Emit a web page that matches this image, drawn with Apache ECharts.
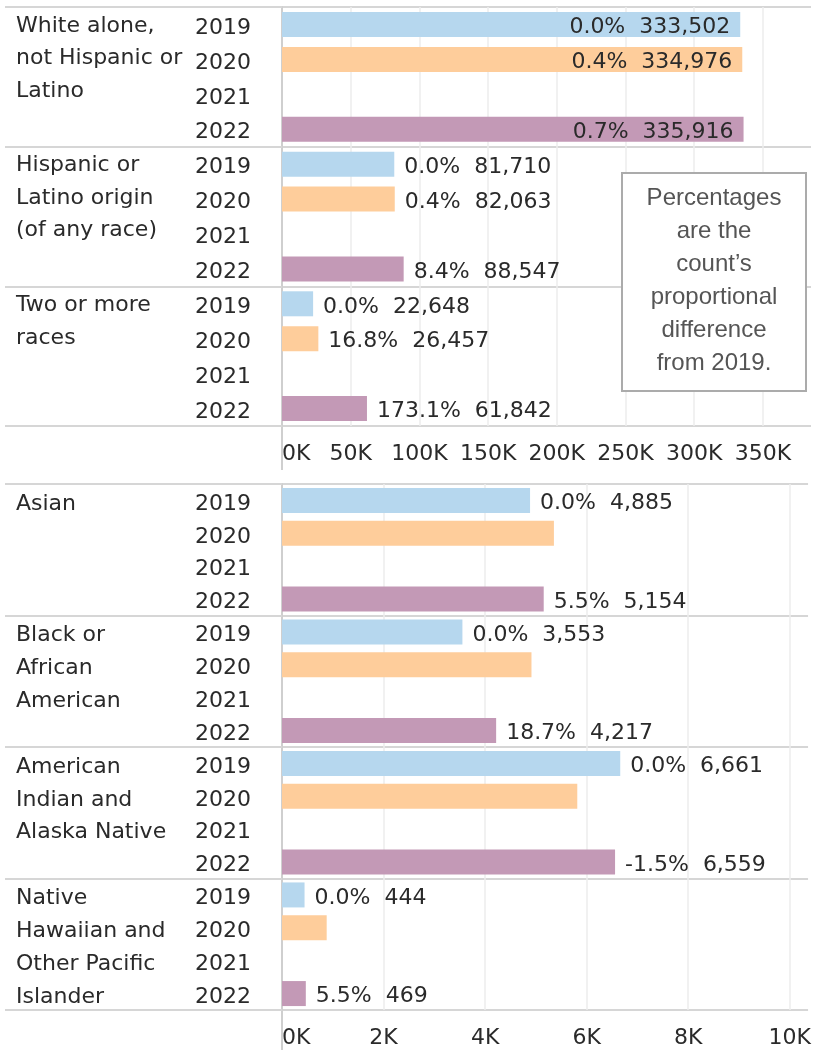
<!DOCTYPE html>
<html><head><meta charset="utf-8">
<script src="https://cdn.jsdelivr.net/npm/echarts@6/dist/echarts.min.js"></script>
<style>html,body{margin:0;padding:0;background:#fff}#c{width:814px;height:1050px}</style>
</head><body><div id="c"></div>
<script>
// ---------- data ----------
const years = ['2019', '2020', '2021', '2022'];

const topGroups = ['White alone,\nnot Hispanic or\nLatino', 'Hispanic or\nLatino origin\n(of any race)', 'Two or more\nraces'];
const top2019 = [333502, 81710, 22648];
const top2020 = [334976, 82063, 26457];
const top2022 = [335916, 88547, 61842];
const top2019Pct = ['0.0%', '0.0%', '0.0%'];
const top2020Pct = ['0.4%', '0.4%', '16.8%'];
const top2022Pct = ['0.7%', '8.4%', '173.1%'];
const topTickLabels = ['0K', '50K', '100K', '150K', '200K', '250K', '300K', '350K'];

const bottomGroups = ['Asian', 'Black or\nAfrican\nAmerican', 'American\nIndian and\nAlaska Native', 'Native\nHawaiian and\nOther Pacific\nIslander'];
const bottom2019 = [4885, 3553, 6661, 444];
const bottom2020 = [5355, 4913, 5815, 880];
const bottom2022 = [5154, 4217, 6559, 469];
const bottom2019Pct = ['0.0%', '0.0%', '0.0%', '0.0%'];
const bottom2020Pct = [null, null, null, null];
const bottom2022Pct = ['5.5%', '18.7%', '-1.5%', '5.5%'];
const bottomTickLabels = ['0K', '2K', '4K', '6K', '8K', '10K'];

const annotationLines = ['Percentages', 'are the', 'count\u2019s', 'proportional', 'difference', 'from 2019.'];

// ---------- style / layout ----------
const yearColors = { '2019': '#b6d7ee', '2020': '#fecd9b', '2022': '#c399b6' };
const FONT = 'DejaVu Sans';
const TXT = '#2a2a2a';
const SEP = '#d6d6d6';
const GRID_LINE = '#ededed';
const PLOT_LEFT = 282;
// spacer: [lineHeight before, lineHeight after] to nudge the label block vertically
const TOP = { top: 7, height: 419, max: 385000, interval: 50000, lineH: 32.5, spacer: [0, 4] };
const BOT = { top: 484, height: 526, max: 10360, interval: 2000, lineH: 32.8, spacer: [7, 0] };

function buildRows(groups, v19, v20, v22, p19, p20, p22, axisMax) {
  const cats = [], items = [];
  const byYear = { '2019': [v19, p19], '2020': [v20, p20], '2021': [null, null], '2022': [v22, p22] };
  groups.forEach((g, gi) => {
    years.forEach(y => {
      cats.push(gi + '|' + y);
      const src = byYear[y];
      const v = src[0] ? src[0][gi] : null;
      const p = src[1] ? src[1][gi] : null;
      if (v == null) { items.push(null); return; }
      const text = p ? p + '  ' + v.toLocaleString('en-US') : '';
      items.push({
        value: v,
        itemStyle: { color: yearColors[y] },
        label: { show: !!p, position: v / axisMax > 0.7 ? 'insideRight' : 'right', formatter: text }
      });
    });
  });
  return { cats, items };
}

const topRows = buildRows(topGroups, top2019, top2020, top2022, top2019Pct, top2020Pct, top2022Pct, TOP.max);
const botRows = buildRows(bottomGroups, bottom2019, bottom2020, bottom2022, bottom2019Pct, bottom2020Pct, bottom2022Pct, BOT.max);

function groupLabel(s, P) {
  const lines = s.split('\n');
  while (lines.length < 4) lines.push(' ');
  const out = lines.map(l => '{g|' + l + '}');
  if (P.spacer[0]) out.unshift('{s0| }');
  if (P.spacer[1]) out.push('{s1| }');
  return out.join('\n');
}

function xAxisFor(gi, P, tickLabels) {
  return {
    type: 'value', gridIndex: gi, min: 0, max: P.max, interval: P.interval, position: 'bottom',
    axisLine: { show: false }, axisTick: { show: false },
    splitLine: { show: true, showMaxLine: false, lineStyle: { color: GRID_LINE, width: 1.5 } },
    axisLabel: {
      color: TXT, fontFamily: FONT, fontSize: 22, margin: 17, alignMinLabel: 'left', showMaxLabel: true,
      formatter: v => (v % P.interval === 0 && tickLabels[v / P.interval] != null) ? tickLabels[v / P.interval] : ''
    }
  };
}
function yearAxisFor(gi, cats) {
  return {
    type: 'category', gridIndex: gi, data: cats, inverse: true, position: 'left',
    axisLine: { show: true, lineStyle: { color: '#cfcfcf', width: 2 } },
    axisTick: { show: false },
    splitLine: { show: false },
    axisLabel: { interval: 0, margin: 31, align: 'right', color: TXT, fontFamily: FONT, fontSize: 22,
      formatter: v => '{s| }\n{y|' + v.split('|')[1] + '}',
      rich: {
        s: { fontSize: 1, lineHeight: 7 },
        y: { fontSize: 22, fontFamily: FONT, color: TXT, lineHeight: 26 }
      } }
  };
}
function groupAxisFor(gi, groups, P) {
  return {
    type: 'category', gridIndex: gi, data: groups, inverse: true, position: 'left',
    axisLine: { show: false },
    axisTick: { show: true, interval: 0, alignWithLabel: false, length: PLOT_LEFT - 5, lineStyle: { color: SEP, width: 2 } },
    splitLine: { show: true, interval: 0, lineStyle: { color: SEP, width: 2 } },
    axisLabel: { interval: 0, margin: PLOT_LEFT - 16, align: 'left', verticalAlign: 'middle',
      color: TXT, fontFamily: FONT, fontSize: 22,
      formatter: v => groupLabel(v, P),
      rich: {
        g: { fontSize: 22, fontFamily: FONT, color: TXT, lineHeight: P.lineH },
        s0: { fontSize: 1, lineHeight: P.spacer[0] || 1 },
        s1: { fontSize: 1, lineHeight: P.spacer[1] || 1 }
      } }
  };
}
function barSeries(gi, rows) {
  return {
    type: 'bar', xAxisIndex: gi, yAxisIndex: gi * 2, data: rows.items, barWidth: 25,
    animation: false, silent: true,
    label: { show: false, color: TXT, fontFamily: FONT, fontSize: 22, distance: 10, offset: [0, 3] },
    z: 3
  };
}

const chart = echarts.init(document.getElementById('c'), null, { renderer: 'canvas' });
chart.setOption({
  animation: false,
  backgroundColor: '#ffffff',
  grid: [
    { left: PLOT_LEFT, right: 0, top: TOP.top, height: TOP.height, containLabel: false },
    { left: PLOT_LEFT, right: 0, top: BOT.top, height: BOT.height, containLabel: false }
  ],
  xAxis: [xAxisFor(0, TOP, topTickLabels), xAxisFor(1, BOT, bottomTickLabels)],
  yAxis: [
    yearAxisFor(0, topRows.cats), groupAxisFor(0, topGroups, TOP),
    yearAxisFor(1, botRows.cats), groupAxisFor(1, bottomGroups, BOT)
  ],
  series: [barSeries(0, topRows), barSeries(1, botRows)],
  graphic: [
    { type: 'line', shape: { x1: PLOT_LEFT, y1: TOP.top + TOP.height, x2: PLOT_LEFT, y2: TOP.top + TOP.height + 44 },
      style: { stroke: '#cfcfcf', lineWidth: 2 } },
    { type: 'line', shape: { x1: PLOT_LEFT, y1: BOT.top + BOT.height, x2: PLOT_LEFT, y2: 1050 },
      style: { stroke: '#cfcfcf', lineWidth: 2 } },
    { type: 'rect', shape: { x: 622, y: 173, width: 184, height: 218 },
      style: { fill: '#ffffff', stroke: '#ababab', lineWidth: 2 }, z: 100 },
    { type: 'text', x: 714, y: 281, z: 101,
      style: { text: annotationLines.join('\n'), fill: '#555555', font: '24px "Liberation Sans", Arial, sans-serif',
        lineHeight: 33, align: 'center', verticalAlign: 'middle' } }
  ]
});
</script>
</body></html>
